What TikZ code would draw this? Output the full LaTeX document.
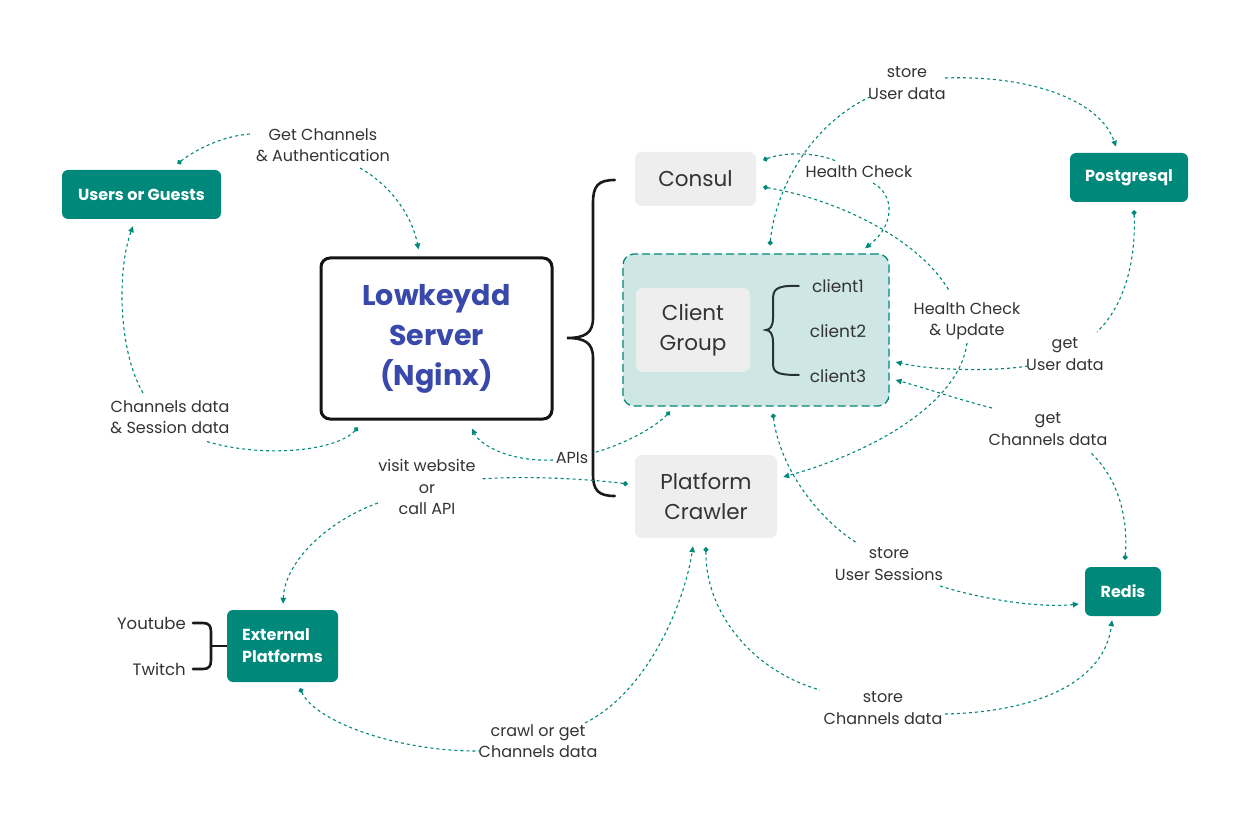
\documentclass[tikz,border=0pt]{standalone}
\usepackage{fontspec}
\setmainfont{Poppins}
\usetikzlibrary{arrows.meta}
\definecolor{tealc}{RGB}{0,137,123}
\definecolor{lteal}{RGB}{206,231,229}
\definecolor{grayc}{RGB}{238,238,238}
\definecolor{txt}{RGB}{51,51,51}
\definecolor{bluec}{RGB}{57,73,171}
\definecolor{bracec}{RGB}{38,50,56}
\tikzset{
  tealbox/.style={fill=tealc, rounded corners=6pt, text=white, inner sep=0pt,
    font=\bfseries\fontsize{16}{22}\selectfont, align=center},
  graybox/.style={fill=grayc, rounded corners=7pt, text=txt, inner sep=0pt,
    font=\fontsize{21.5}{30}\selectfont, align=center},
  lbl/.style={text=txt, font=\fontsize{16}{21.5}\selectfont, align=center, inner sep=1pt},
  conn/.style={draw=tealc, line width=1.1pt, dash pattern=on 3pt off 3pt},
  dotst/.style={{Circle[length=5pt]}-},
  tipend/.style={-{Triangle[length=6pt,width=5.5pt]}},
  brk/.style={draw=black!90, line width=2.6pt, line cap=round},
}
\begin{document}
\begin{tikzpicture}[x=1pt,y=-1pt]
\useasboundingbox[fill=white] (0,0) rectangle (1251,826);

% ---- main boxes
\node[tealbox, minimum width=159pt, minimum height=49pt] (users) at (141.5,194.5) {Users or Guests};
\node[draw=black!92, line width=3pt, rounded corners=9pt, fill=white, minimum width=231pt, minimum height=161pt,
  text=bluec, font=\bfseries\fontsize{28.5}{40}\selectfont, align=center, inner sep=0pt] (lowkey) at (436.5,338.5) {Lowkeydd\\Server\\(Nginx)};
\node[graybox, minimum width=121pt, minimum height=54pt] (consul) at (695.5,179) {Consul};
\node[draw=tealc, fill=lteal, line width=1.3pt, dash pattern=on 8pt off 4pt, rounded corners=11pt,
  minimum width=266pt, minimum height=152pt, inner sep=0pt] (group) at (756,330) {};
\node[graybox, minimum width=114pt, minimum height=84pt] (cgroup) at (693,330) {Client\\Group};
\node[lbl, font=\fontsize{17}{21.5}\selectfont] (c1) at (838,286) {client1};
\node[lbl, font=\fontsize{17}{21.5}\selectfont] (c2) at (838,331) {client2};
\node[lbl, font=\fontsize{17}{21.5}\selectfont] (c3) at (838,376) {client3};
\node[graybox, minimum width=142pt, minimum height=83pt] (crawler) at (706,496.5) {Platform\\Crawler};
\node[tealbox, minimum width=118pt, minimum height=49pt] (postgres) at (1129,177.5) {Postgresql};
\node[tealbox, minimum width=76pt, minimum height=49pt] (redis) at (1123,591.5) {Redis};
\node[tealbox, minimum width=111pt, minimum height=72pt, align=left] (extp) at (282.5,646) {External\\Platforms};
\node[lbl, anchor=east, font=\fontsize{16.5}{21}\selectfont] (yt) at (187,623) {Youtube};
\node[lbl, anchor=east, font=\fontsize{16.5}{21}\selectfont] (tw) at (187,669) {Twitch};

% ---- braces
\draw[brk] ([shift={(-20,1)}]consul.west) .. controls (598,180) and (593,186) .. (593,203) -- (593,318)
  .. controls (593,333) and (585,338) .. (567,338) .. controls (585,338) and (593,343) .. (593,358)
  -- (593,474) .. controls (593,490) and (598,496) .. ([shift={(-20,0)}]crawler.west |- 0,496);
\draw[draw=bracec, line width=2pt, line cap=round] ([shift={(-10,-45)}]c2.west) .. controls (775,285) and (773,290) .. (773,300) -- (773,318)
  .. controls (773,326) and (770,330) .. (766,330) .. controls (770,330) and (773,334) .. (773,342) -- (773,362)
  .. controls (773,372) and (775,375) .. ([shift={(-10,44)}]c2.west);
\draw[brk] ([shift={(6,0)}]yt.east) -- (203,623) .. controls (209,623) and (211,626) .. (211,632) -- (211,660)
  .. controls (211,666) and (209,669) .. (203,669) -- ([shift={(6,0)}]tw.east);
\draw[brk, line cap=butt] (211,646) -- (extp.west);

% ---- labels
\node[lbl] (lGC) at (323,145) {Get Channels\\\& Authentication};
\node[lbl] (lCD) at (170,417) {Channels data\\\& Session data};
\node[lbl] (lAPI) at (572,458) {APIs};
\node[lbl] (lVW) at (427,487) {visit website\\or\\call API};
\node[lbl] (lCR) at (538,741) {crawl or get\\Channels data};
\node[lbl] (lSC) at (883,708) {store\\Channels data};
\node[lbl] (lSU) at (889,564) {store\\User Sessions};
\node[lbl] (lGCD) at (1048,429) {get\\Channels data};
\node[lbl] (lGU) at (1065,354) {get\\User data};
\node[lbl] (lSUD) at (907,83) {store\\User data};
\node[lbl] (lHC) at (859,172) {Health Check};
\node[lbl] (lHCU) at (967,321) {Health Check\\\& Update};

% ---- connectors
% A users -> lowkey
\draw[conn, dotst] ([shift={(36,-6)}]users.north) .. controls (195,150) and (222,136) .. ([shift={(-73,-11)}]lGC.center);
\draw[conn, tipend] ([shift={(37,23)}]lGC.center) .. controls (390,185) and (412,215) .. ([shift={(-18,-7)}]lowkey.north);
% B lowkey -> users
\draw[conn, dotst] ([shift={(-78.5,7)}]lowkey.south) .. controls (335,452) and (260,458) .. ([shift={(35,24)}]lCD.center);
\draw[conn, tipend] ([shift={(-27,-24)}]lCD.center) .. controls (118,350) and (117,270) .. ([shift={(-8.5,7)}]users.south);
% C group -> lowkey (APIs)
\draw[conn, dotst] ([shift={(-86,5)}]group.south) .. controls (650,432) and (615,447) .. ([shift={(21,-5)}]lAPI.center);
\draw[conn, tipend] ([shift={(-19,2)}]lAPI.center) .. controls (510,462) and (480,445) .. ([shift={(35.5,8)}]lowkey.south);
% D crawler -> external
\draw[conn, dotst] ([shift={(-7,-12.5)}]crawler.west) .. controls (580,478) and (520,476) .. ([shift={(53,-8)}]lVW.center);
\draw[conn, tipend] ([shift={(-49,16)}]lVW.center) .. controls (330,520) and (285,560) .. ([shift={(0.5,-6)}]extp.north);
% E external -> crawler
\draw[conn, dotst] ([shift={(17.5,6)}]extp.south) .. controls (315,722) and (400,752) .. ([shift={(-58,10)}]lCR.center);
\draw[conn, tipend] ([shift={(47,-18)}]lCR.center) .. controls (650,690) and (685,600) .. ([shift={(-13,8)}]crawler.south);
% F crawler -> redis
\draw[conn, dotst] ([shift={(0,9)}]crawler.south) .. controls (705,610) and (750,670) .. ([shift={(-63,-18)}]lSC.center);
\draw[conn, tipend] ([shift={(62,6)}]lSC.center) .. controls (1040,712) and (1105,680) .. ([shift={(-11,4)}]redis.south);
% G group -> redis
\draw[conn, dotst] ([shift={(17,7)}]group.south) .. controls (780,470) and (820,520) .. ([shift={(-32,-21)}]lSU.center);
\draw[conn, tipend] ([shift={(51,22)}]lSU.center) .. controls (985,600) and (1040,608) .. ([shift={(-6,12.5)}]redis.west);
% H redis -> group
\draw[conn, dotst] ([shift={(2,-7)}]redis.north) .. controls (1128,520) and (1120,480) .. ([shift={(42,23)}]lGCD.center);
\draw[conn, tipend] ([shift={(-56,-21)}]lGCD.center) .. controls (960,400) and (925,388) .. ([shift={(6,50)}]group.east);
% I postgres -> group
\draw[conn, dotst] ([shift={(5,8)}]postgres.south) .. controls (1136,260) and (1125,305) .. ([shift={(32,-22)}]lGU.center);
\draw[conn, tipend] ([shift={(-37,12)}]lGU.center) .. controls (990,372) and (930,370) .. ([shift={(6,32)}]group.east);
% J group -> postgres
\draw[conn, dotst] ([shift={(14,-8)}]group.north) .. controls (775,190) and (810,125) .. ([shift={(-37,14)}]lSUD.center);
\draw[conn, tipend] ([shift={(38,-5)}]lSUD.center) .. controls (1030,75) and (1100,100) .. ([shift={(-13,-6)}]postgres.north);
% K consul -> group (Health Check)
\draw[conn, dotst] ([shift={(7,-19)}]consul.east) .. controls (785,152) and (815,152) .. ([shift={(-23,-11)}]lHC.center);
\draw[conn, tipend] ([shift={(14,11)}]lHC.center) .. controls (895,195) and (895,225) .. ([shift={(109,-5)}]group.north);
% L consul -> crawler (Health Check & Update)
\draw[conn, dotst] ([shift={(7,8)}]consul.east) .. controls (840,200) and (920,240) .. ([shift={(-17,-29)}]lHCU.center);
\draw[conn, tipend] ([shift={(0,22)}]lHCU.center) .. controls (960,400) and (880,450) .. ([shift={(6,-19.5)}]crawler.east);
\end{tikzpicture}
\end{document}
